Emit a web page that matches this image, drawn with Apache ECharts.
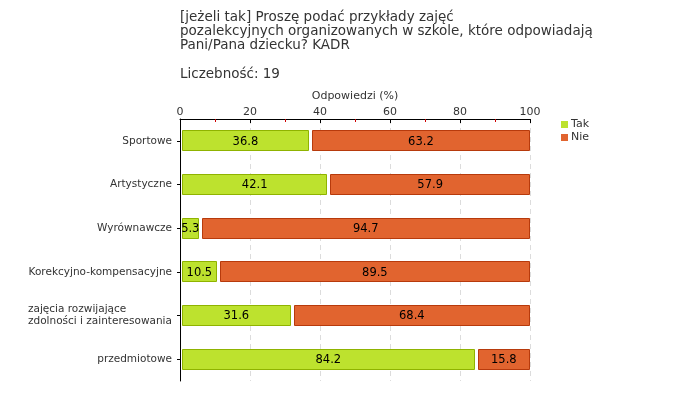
<!DOCTYPE html>
<html>
<head>
<meta charset="utf-8">
<script src="https://cdn.jsdelivr.net/npm/echarts@6/dist/echarts.min.js"></script>
<style>html,body{margin:0;padding:0;background:#fff}#c{width:680px;height:400px}</style>
</head>
<body>
<div id="c"></div>
<script>
var categories = ['Sportowe', 'Artystyczne', 'Wyrównawcze', 'Korekcyjno-kompensacyjne', 'zajęcia rozwijające\nzdolności i zainteresowania', 'przedmiotowe'];
var takValues = [36.8, 42.1, 5.3, 10.5, 31.6, 84.2];
var nieValues = [63.2, 57.9, 94.7, 89.5, 68.4, 15.8];
var xTicks = [0, 20, 40, 60, 80, 100];

var FONT = 'DejaVu Sans';
var GREEN = '#bde22e', GREEN_B = '#8fb300';
var ORANGE = '#e1642f', ORANGE_B = '#b73a0c';

function makeRender(color, border, startGap) {
  return function (params, api) {
    var y = api.value(2);
    var s = api.coord([api.value(0), y]);
    var e = api.coord([api.value(1), y]);
    var h = api.size([0, 1])[1] * 0.48;
    var x0 = s[0] + startGap, x1 = e[0];
    var val = api.value(3);
    return {
      type: 'group',
      children: [{
        type: 'rect',
        shape: { x: Math.round(x0) + 0.5, y: Math.round(s[1] - h / 2) + 0.5, width: Math.round(x1 - x0) - 1, height: Math.round(h) - 1 },
        style: { fill: color, stroke: border, lineWidth: 1 }
      }, {
        type: 'text',
        x: (x0 + x1) / 2, y: s[1] + 1,
        style: { text: val.toFixed(1), fill: '#000', font: '11.5px "' + FONT + '"', align: 'center', verticalAlign: 'middle' }
      }]
    };
  };
}

var takData = [], nieData = [];
for (var i = 0; i < categories.length; i++) {
  takData.push([0, takValues[i], i, takValues[i]]);
  nieData.push([takValues[i], takValues[i] + nieValues[i], i, nieValues[i]]);
}

var chart = echarts.init(document.getElementById('c'), null, { renderer: 'canvas' });
chart.setOption({
  animation: false,
  backgroundColor: '#fff',
  textStyle: { fontFamily: FONT },
  title: [{
    text: '[jeżeli tak] Proszę podać przykłady zajęć\npozalekcyjnych organizowanych w szkole, które odpowiadają\nPani/Pana dziecku? KADR',
    left: 180, top: 10, padding: 0,
    textStyle: { fontFamily: FONT, fontSize: 13.5, fontWeight: 'normal', color: '#333', lineHeight: 14 }
  }, {
    text: 'Liczebność: 19',
    left: 180, top: 67, padding: 0,
    textStyle: { fontFamily: FONT, fontSize: 13.5, fontWeight: 'normal', color: '#333', lineHeight: 14 }
  }],
  legend: {
    orient: 'vertical', left: 556, top: 113,
    itemWidth: 7, itemHeight: 7, itemGap: 0, icon: 'rect',
    textStyle: { fontFamily: FONT, fontSize: 11, color: '#333', padding: [0, 0, 0, -2], lineHeight: 13 },
    data: [{ name: 'Tak', itemStyle: { color: GREEN, borderWidth: 0 } }, { name: 'Nie', itemStyle: { color: ORANGE, borderWidth: 0 } }]
  },
  grid: { left: 180, right: 150, top: 119, bottom: 19, containLabel: false },
  xAxis: {
    type: 'value', position: 'top', min: 0, max: 100, interval: 20,
    name: 'Odpowiedzi (%)', nameLocation: 'middle', nameGap: 10,
    nameTextStyle: { fontFamily: FONT, fontSize: 11, color: '#333', verticalAlign: 'bottom' },
    axisLine: { show: true, lineStyle: { color: '#000', width: 1 } },
    axisTick: { show: true, inside: true, length: 4, lineStyle: { color: '#000' } },
    minorTick: { show: true, splitNumber: 2, length: 3, lineStyle: { color: '#d00000' } },
    axisLabel: { fontFamily: FONT, fontSize: 11, color: '#333', margin: 1,
      formatter: function (v) { return xTicks.indexOf(v) >= 0 ? String(v) : ''; } },
    splitLine: { show: true, lineStyle: { color: '#dcdcdc', type: [5, 4] } }
  },
  yAxis: {
    type: 'category', inverse: true, data: categories,
    axisLine: { show: true, lineStyle: { color: '#000', width: 1 } },
    axisTick: { show: true, alignWithLabel: true, length: 3, lineStyle: { color: '#000' } },
    axisLabel: {
      fontFamily: FONT, fontSize: 10.5, color: '#333', margin: 8, lineHeight: 12,
      formatter: function (v) {
        if (v.indexOf('\n') >= 0) {
          return v.split('\n').map(function (l) { return '{a|' + l + '}'; }).join('\n');
        }
        return v;
      },
      rich: { a: { fontFamily: FONT, fontSize: 10.5, color: '#333', width: 144, align: 'left', lineHeight: 12 } }
    }
  },
  series: [{
    name: 'Tak', type: 'custom', renderItem: makeRender(GREEN, GREEN_B, 2),
    itemStyle: { color: GREEN },
    encode: { x: [0, 1], y: 2 }, data: takData
  }, {
    name: 'Nie', type: 'custom', renderItem: makeRender(ORANGE, ORANGE_B, 3),
    itemStyle: { color: ORANGE },
    encode: { x: [0, 1], y: 2 }, data: nieData
  }]
});
</script>
</body>
</html>
